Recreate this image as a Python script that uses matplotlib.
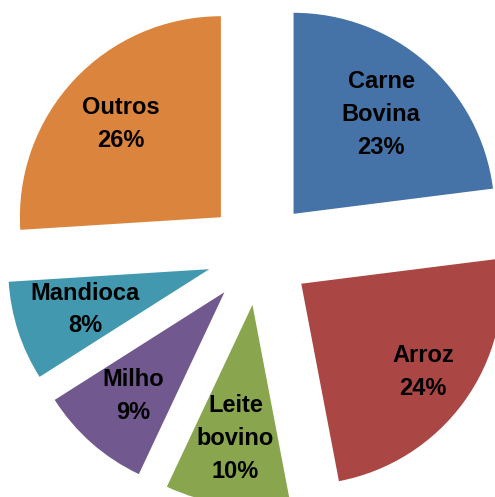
import numpy as np
import matplotlib
matplotlib.use("Agg")
import matplotlib.pyplot as plt

# share of each product (%)
products = ["Carne\nBovina", "Arroz", "Leite\nbovino", "Milho", "Mandioca", "Outros"]
shares = [23, 24, 10, 9, 8, 26]
colors = ["#4572A7", "#AA4643", "#89A54E", "#71588F", "#4198AF", "#DB843D"]
# how far out along each wedge the label sits (fraction of radius)
label_r = [0.66, 0.75, 0.67, 0.69, 0.65, 0.68]

plt.rcParams["font.family"] = ["Liberation Sans Narrow", "Liberation Sans", "DejaVu Sans"]

fig = plt.figure(figsize=(4.95, 4.97), dpi=100)
ax = fig.add_axes([0, 0, 1, 1])

explode = [0.26] * len(shares)
wedges, _ = ax.pie(shares, colors=colors, startangle=90, counterclock=False,
                   explode=explode, radius=1.0, labels=None,
                   wedgeprops=dict(linewidth=0))

for w, name, val, lr in zip(wedges, products, shares, label_r):
    mid = np.deg2rad((w.theta1 + w.theta2) / 2)
    cx, cy = w.center
    x = cx + lr * np.cos(mid)
    y = cy + lr * np.sin(mid)
    ax.text(x, y, f"{name}\n{val}%", ha="center", va="center",
            fontsize=17, fontweight="bold", color="black", linespacing=1.55)

# pie is cropped on the right and bottom
scale = 201.0
ax.set_xlim(-259 / scale, 236 / scale)
ax.set_ylim(-244 / scale, 253 / scale)
ax.set_aspect("equal")
ax.axis("off")

fig.savefig("out.png", dpi=100)
